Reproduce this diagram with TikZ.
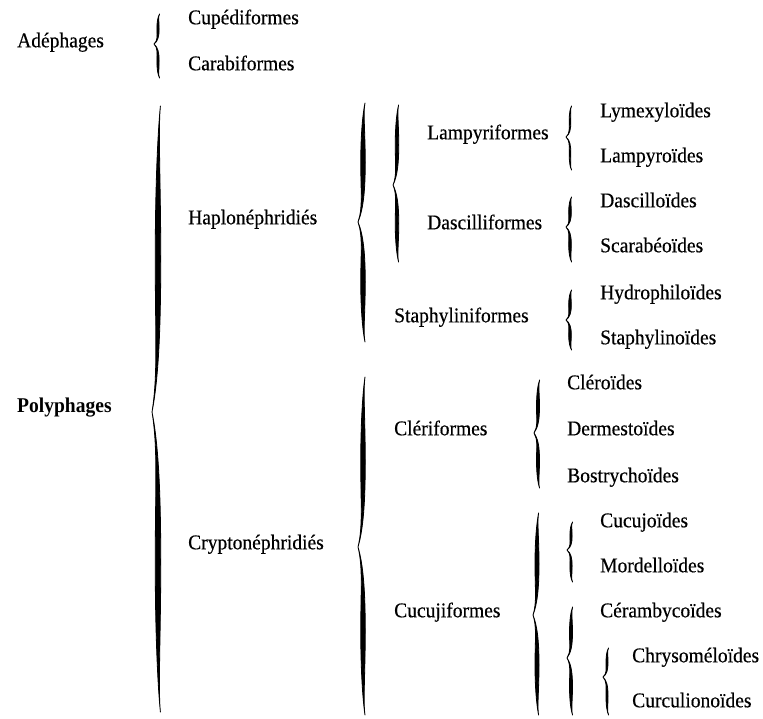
\documentclass[tikz,border=0pt]{standalone}
\usepackage{fontspec}
\setmainfont{Liberation Serif}
\newfontfamily\lblfont{Liberation Serif}[FakeStretch=0.93, FakeBold=0.35]
\newfontfamily\lblboldfont{Liberation Serif Bold}[FakeStretch=0.93]
\tikzset{
  lbl/.style={anchor=mid west, inner sep=0pt, font=\lblfont\fontsize{21}{23}\selectfont},
  lblbold/.style={lbl, font=\lblboldfont\fontsize{21}{23}\selectfont},
  bracestyle/.style={line width=0.8pt, line join=round, fill=black, draw=black}
}
% calligraphic left brace: x, ytop, ytip, ybottom, max thickness, tip depth
\newcommand\cbrace[6]{%
  \pgfmathsetmacro\hA{#3-#2}%
  \pgfmathsetmacro\hB{#4-#3}%
  \filldraw[bracestyle]
    (#1+0.4*#6,#2)
    .. controls (#1,#2+0.08*\hA) and (#1-0.5*#5,#2+0.25*\hA) .. (#1-0.5*#5,#2+0.5*\hA)
    .. controls (#1-0.5*#5,#2+0.75*\hA) and (#1,#3-0.12*\hA) .. (#1-#6,#3)
    .. controls (#1,#3+0.12*\hB) and (#1-0.5*#5,#3+0.25*\hB) .. (#1-0.5*#5,#3+0.5*\hB)
    .. controls (#1-0.5*#5,#3+0.75*\hB) and (#1,#4-0.08*\hB) .. (#1+0.4*#6,#4)
    .. controls (#1,#4-0.08*\hB) and (#1+0.5*#5,#4-0.25*\hB) .. (#1+0.5*#5,#3+0.5*\hB)
    .. controls (#1+0.5*#5,#3+0.25*\hB) and (#1,#3+0.1*\hB) .. (#1-#6,#3)
    .. controls (#1,#3-0.1*\hA) and (#1+0.5*#5,#3-0.25*\hA) .. (#1+0.5*#5,#2+0.5*\hA)
    .. controls (#1+0.5*#5,#2+0.25*\hA) and (#1,#2+0.08*\hA) .. cycle;%
}
\begin{document}
\begin{tikzpicture}[x=1pt,y=-1pt]
\useasboundingbox[fill=white] (0,0) rectangle (763,718);

% level 1
\node[lbl] (ade) at (17,45) {Adéphages};
\node[lblbold] (poly) at (17,410) {Polyphages};

% level 2
\node[lbl] (cup) at (188,22) {Cupédiformes};
\node[lbl] (car) at (188,68) {Carabiformes};
\node[lbl] (haplo) at (188,222) {Haplonéphridiés};
\node[lbl] (crypto) at (188,547) {Cryptonéphridiés};

% level 3
\node[lbl] (lampy) at (427,137) {Lampyriformes};
\node[lbl] (dasci) at (427,227) {Dascilliformes};
\node[lbl] (staph) at (394,320) {Staphyliniformes};
\node[lbl] (cleri) at (394,433) {Clériformes};
\node[lbl] (cucuji) at (394,615) {Cucujiformes};

% level 4
\node[lbl] (lymex) at (600,115) {Lymexyloïdes};
\node[lbl] (lampyr) at (600,160) {Lampyroïdes};
\node[lbl] (dascil) at (600,205) {Dascilloïdes};
\node[lbl] (scara) at (600,250) {Scarabéoïdes};
\node[lbl] (hydro) at (600,297) {Hydrophiloïdes};
\node[lbl] (staphy) at (600,342) {Staphylinoïdes};
\node[lbl] (clero) at (567,387) {Cléroïdes};
\node[lbl] (derm) at (567,433) {Dermestoïdes};
\node[lbl] (bostr) at (567,480) {Bostrychoïdes};
\node[lbl] (cucujo) at (600,525) {Cucujoïdes};
\node[lbl] (mord) at (600,570) {Mordelloïdes};
\node[lbl] (ceramb) at (600,615) {Cérambycoïdes};
\node[lbl] (chryso) at (632,660) {Chrysoméloïdes};
\node[lbl] (curcu) at (632,705) {Curculionoïdes};

% braces
\cbrace{158}{14}{44}{78}{2.2}{4}
\cbrace{158}{106}{412}{712}{5.5}{6}
\cbrace{363}{103}{222}{342}{4.5}{5}
\cbrace{397}{105}{185}{262}{3.5}{4}
\cbrace{570}{106}{137}{170}{1.6}{4}
\cbrace{570}{197}{227}{262}{2.6}{4}
\cbrace{570}{290}{320}{350}{2.6}{4}
\cbrace{363}{377}{547}{715}{4.5}{5}
\cbrace{538}{380}{433}{488}{3}{4}
\cbrace{537}{513}{615}{715}{4}{4}
\cbrace{571}{522}{550}{582}{2.2}{4}
\cbrace{571}{607}{658}{715}{3}{4}
\cbrace{607}{648}{677}{715}{2}{4}
\end{tikzpicture}
\end{document}
